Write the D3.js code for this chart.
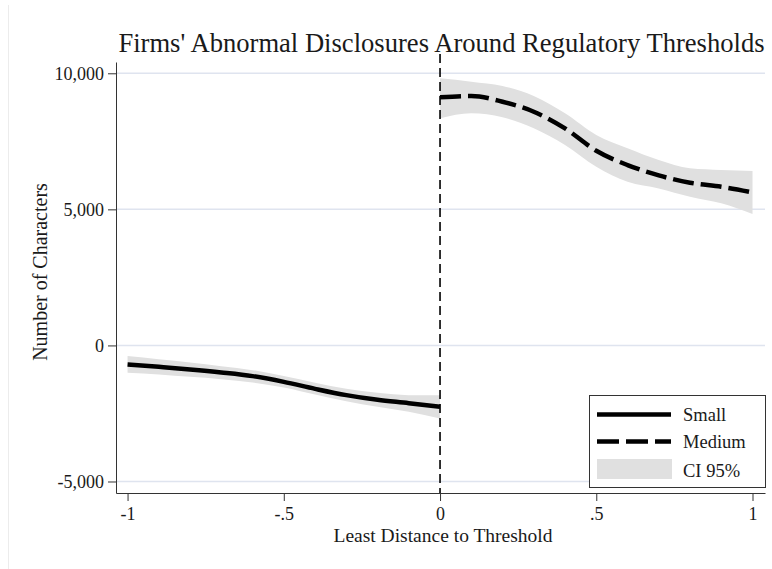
<!DOCTYPE html>
<html>
<head>
<meta charset="utf-8">
<script src="https://cdn.jsdelivr.net/npm/d3@7"></script>
<style>
  html, body { margin: 0; padding: 0; background: #ffffff; }
  svg { display: block; }
  text { font-family: "Liberation Serif", "DejaVu Serif", serif; fill: #1a1a1a; }
</style>
</head>
<body>
<svg id="chart" width="772" height="569"></svg>
<script>
// ---------------- data ----------------
const titleText = "Firms' Abnormal Disclosures Around Regulatory Thresholds";
const xAxisTitle = "Least Distance to Threshold";
const yAxisTitle = "Number of Characters";

const xTicks = [-1, -0.5, 0, 0.5, 1];
const xTickLabels = ["-1", "-.5", "0", ".5", "1"];
const yTicks = [-5000, 0, 5000, 10000];
const yTickLabels = ["-5,000", "0", "5,000", "10,000"];

const smallX  = [-1, -0.9, -0.8, -0.7, -0.6, -0.5, -0.4, -0.3, -0.2, -0.1, 0];
const smallY  = [-698, -787, -882, -993, -1128, -1338, -1595, -1827, -2000, -2121, -2257];
const smallHi = [-393, -504, -625, -761, -908, -1128, -1375, -1595, -1742, -1827, -1827];
const smallLo = [-1006, -1066, -1154, -1239, -1360, -1544, -1801, -2048, -2257, -2441, -2683];

const mediumX  = [0, 0.1, 0.2, 0.3, 0.4, 0.5, 0.6, 0.7, 0.8, 0.9, 1];
const mediumY  = [9117, 9165, 8955, 8587, 7977, 7154, 6628, 6249, 5977, 5830, 5624];
const mediumHi = [9815, 9690, 9532, 9164, 8528, 7731, 7242, 6812, 6507, 6444, 6407];
const mediumLo = [8345, 8528, 8381, 7977, 7363, 6565, 6014, 5771, 5463, 5220, 4827];

const legendLabels = ["Small", "Medium", "CI 95%"];

// ---------------- layout ----------------
const svg = d3.select("#chart");
const plotL = 116, plotR = 765, plotT = 62, plotB = 493;

const x = d3.scaleLinear().domain([-1.037, 1.04]).range([plotL, plotR]);
const y = d3.scaleLinear().domain([-5423, 10415]).range([plotB, plotT]);

const ciColor = "#e0e0e0";
const gridColor = "#dfe4ef";

// faint outer region edge
svg.append("line")
  .attr("x1", 8.5).attr("x2", 8.5).attr("y1", 5).attr("y2", 569)
  .attr("stroke", "#ececec").attr("stroke-width", 1);

// gridlines
svg.append("g").selectAll("line").data(yTicks).join("line")
  .attr("x1", plotL).attr("x2", plotR)
  .attr("y1", d => y(d)).attr("y2", d => y(d))
  .attr("stroke", gridColor).attr("stroke-width", 1.5);

// helper to build series rows
function rows(xs, ys, lo, hi) {
  return xs.map((v, i) => ({ x: v, y: ys[i], lo: lo[i], hi: hi[i] }));
}
const smallData = rows(smallX, smallY, smallLo, smallHi);
const mediumData = rows(mediumX, mediumY, mediumLo, mediumHi);

const area = d3.area().x(d => x(d.x)).y0(d => y(d.lo)).y1(d => y(d.hi)).curve(d3.curveMonotoneX);
const line = d3.line().x(d => x(d.x)).y(d => y(d.y)).curve(d3.curveMonotoneX);

svg.append("path").datum(smallData).attr("d", area).attr("fill", ciColor);
svg.append("path").datum(mediumData).attr("d", area).attr("fill", ciColor);

svg.append("path").datum(smallData).attr("d", line)
  .attr("fill", "none").attr("stroke", "#000").attr("stroke-width", 4.5);
svg.append("path").datum(mediumData).attr("d", line)
  .attr("fill", "none").attr("stroke", "#000").attr("stroke-width", 4.5)
  .attr("stroke-dasharray", "21,7");

// threshold line
svg.append("line")
  .attr("x1", x(0)).attr("x2", x(0)).attr("y1", plotT - 8).attr("y2", plotB)
  .attr("stroke", "#000").attr("stroke-width", 1.6)
  .attr("stroke-dasharray", "9,5");

// axes
const yAxis = d3.axisLeft(y).tickValues(yTicks)
  .tickFormat((d, i) => yTickLabels[i]).tickSize(8).tickSizeOuter(0).tickPadding(4);
const gy = svg.append("g").attr("transform", `translate(${plotL},0)`).call(yAxis);

const xAxis = d3.axisBottom(x).tickValues(xTicks)
  .tickFormat((d, i) => xTickLabels[i]).tickSize(8).tickSizeOuter(0).tickPadding(6);
const gx = svg.append("g").attr("transform", `translate(0,${plotB})`).call(xAxis);

[gx, gy].forEach(g => {
  g.select(".domain").attr("stroke", "#333").attr("stroke-width", 1);
  g.selectAll(".tick line").attr("stroke", "#333").attr("stroke-width", 1);
  g.selectAll(".tick text")
    .attr("fill", "#1a1a1a")
    .style("font-family", '"Liberation Serif", serif')
    .style("font-size", "18px");
});

// titles
svg.append("text")
  .attr("x", 441.5).attr("y", 52)
  .attr("text-anchor", "middle")
  .style("font-size", "26.6px")
  .text(titleText);

svg.append("text")
  .attr("x", 443).attr("y", 542)
  .attr("text-anchor", "middle")
  .style("font-size", "19.5px")
  .text(xAxisTitle);

svg.append("text")
  .attr("transform", "translate(47,272) rotate(-90)")
  .attr("text-anchor", "middle")
  .style("font-size", "20px")
  .text(yAxisTitle);

// legend
const lg = svg.append("g");
lg.append("rect")
  .attr("x", 589.5).attr("y", 395.5).attr("width", 176).attr("height", 92)
  .attr("fill", "#fff").attr("stroke", "#333").attr("stroke-width", 1);
lg.append("line").attr("x1", 597).attr("x2", 671).attr("y1", 414.5).attr("y2", 414.5)
  .attr("stroke", "#000").attr("stroke-width", 4.5);
lg.append("line").attr("x1", 597).attr("x2", 671).attr("y1", 441.5).attr("y2", 441.5)
  .attr("stroke", "#000").attr("stroke-width", 4.5).attr("stroke-dasharray", "22,7");
lg.append("rect").attr("x", 597).attr("y", 459).attr("width", 75).attr("height", 20)
  .attr("fill", ciColor);
const legendBase = [421, 447.5, 477];
lg.selectAll("text.lab").data(legendLabels).join("text")
  .attr("class", "lab")
  .attr("x", 683).attr("y", (d, i) => legendBase[i])
  .style("font-size", "18.5px")
  .text(d => d);
</script>
</body>
</html>
